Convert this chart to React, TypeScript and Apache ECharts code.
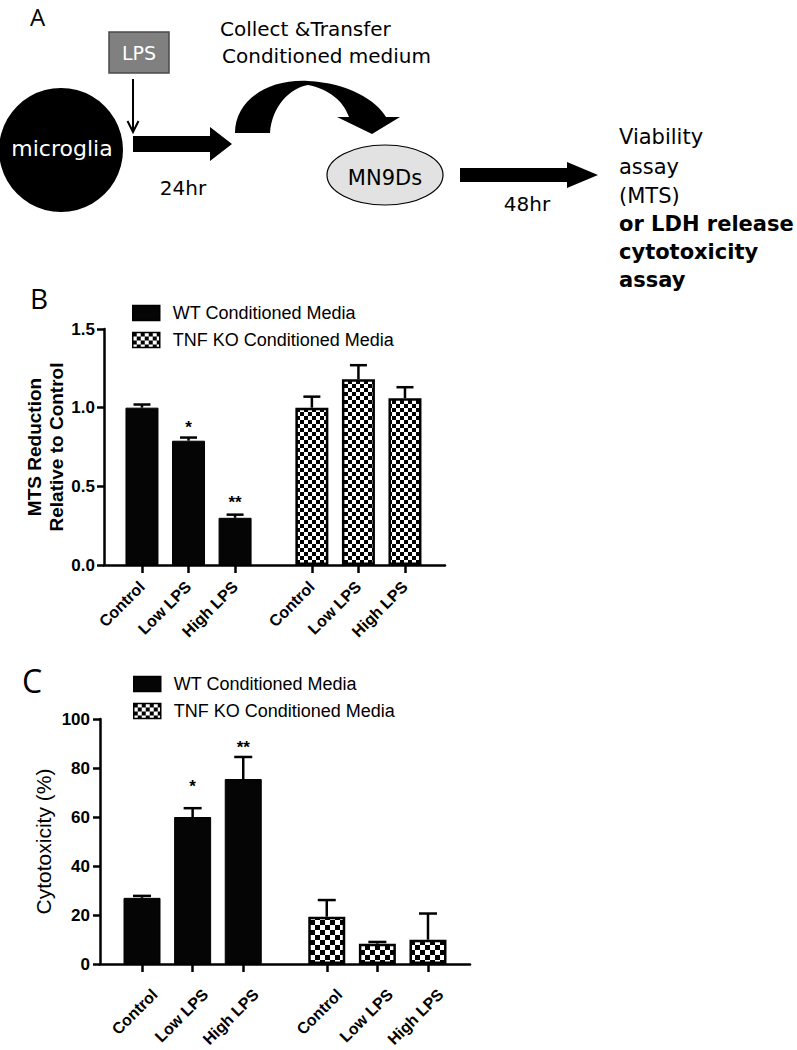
import React, { useEffect, useRef } from "react";
import * as echarts from "echarts";

// ---------- data ----------
const groupNames = ["Control", "Low LPS", "High LPS"];
const seriesNames = ["WT Conditioned Media", "TNF KO Conditioned Media"];
const groupOffset = 3.65; // KO group starts this many slots after the WT group

// Panel B: MTS reduction relative to control
const mtsTicks = [0, 0.5, 1.0, 1.5];
const mtsWT = [1.0, 0.79, 0.3];
const mtsWTErr = [0.02, 0.02, 0.02];
const mtsKO = [1.0, 1.18, 1.06];
const mtsKOErr = [0.07, 0.09, 0.07];
const mtsStars = ["", "*", "**"];
const mtsStarLevel = [0, 0.9, 0.42];

// Panel C: cytotoxicity (%)
const cytoTicks = [0, 20, 40, 60, 80, 100];
const cytoWT = [27, 60, 75.5];
const cytoWTErr = [0.8, 3.6, 9];
const cytoKO = [19.3, 8.3, 9.9];
const cytoKOErr = [6.8, 0.7, 10.7];
const cytoStars = ["", "*", "**"];
const cytoStarLevel = [0, 74, 90];

// ---------- helpers ----------
const wtPos = groupNames.map((_, i) => i + 1);
const koPos = groupNames.map((_, i) => i + 1 + groupOffset);
const allPos = [...wtPos, ...koPos];
const allNames = [...groupNames, ...groupNames];

const curveD =
  "M235 133 C235 100 268 79 308 81 C348 83 376 100 386 117 L400 117 L372 134 L337 117 L349 117 C343 100 328 89 308 85 C290 88 272 106 270 133 Z";
echarts.graphic.registerShape("curveArrow", echarts.graphic.extendPath(curveD, {}));

function makeChecker(cell: number) {
  const c = document.createElement("canvas");
  c.width = cell * 2;
  c.height = cell * 2;
  const ctx = c.getContext("2d")!;
  ctx.fillStyle = "#fff";
  ctx.fillRect(0, 0, cell * 2, cell * 2);
  ctx.fillStyle = "#000";
  ctx.fillRect(0, 0, cell, cell);
  ctx.fillRect(cell, cell, cell, cell);
  return c;
}

const AX = "Liberation Sans";
const DIAG = "DejaVu Sans";

function xAxisFor(gridIndex: number, min: number, max: number, label: any) {
  return {
    type: "value",
    gridIndex,
    min,
    max,
    splitLine: { show: false },
    axisLine: { show: true, onZero: false, lineStyle: { color: "#000", width: 2.5 } },
    axisTick: { show: true, customValues: allPos, length: 8, lineStyle: { color: "#000", width: 2.5 } },
    axisLabel: {
      show: true,
      customValues: allPos,
      rotate: 45,
      formatter: (v: number) => {
        const idx = allPos.findIndex((p) => Math.abs(p - v) < 1e-6);
        return idx >= 0 ? allNames[idx] : "";
      },
      fontFamily: AX,
      fontWeight: "bold",
      fontSize: 16,
      color: "#000",
      ...label,
    },
  };
}

function yAxisFor(gridIndex: number, ticks: number[], fmt: (v: number) => string, name: string, nameGap: number, nameStyle: any, margin: number) {
  return {
    type: "value",
    gridIndex,
    min: ticks[0],
    max: ticks[ticks.length - 1],
    interval: ticks[1] - ticks[0],
    splitLine: { show: false },
    axisLine: { show: true, lineStyle: { color: "#000", width: 2.5 } },
    axisTick: { show: true, length: 7, lineStyle: { color: "#000", width: 2.5 } },
    axisLabel: { formatter: fmt, fontFamily: AX, fontWeight: "bold", fontSize: 17, color: "#000", margin },
    name,
    nameLocation: "middle",
    nameGap,
    nameTextStyle: { color: "#000", fontFamily: AX, ...nameStyle },
  };
}

function panelSeries(idx: number, wt: number[], wtErr: number[], ko: number[], koErr: number[], stars: string[], starLevel: number[], barWidth: number, capW: number, pattern: any) {
  const errData = [
    ...wt.map((v, i) => [wtPos[i], v, wtErr[i]]),
    ...ko.map((v, i) => [koPos[i], v, koErr[i]]),
  ];
  const starData = stars
    .map((s, i) => [wtPos[i], starLevel[i], i])
    .filter((d) => stars[d[2] as number] !== "");
  return [
    {
      type: "bar",
      name: seriesNames[0],
      xAxisIndex: idx,
      yAxisIndex: idx,
      barWidth,
      barGap: "-100%",
      data: wt.map((v, i) => [wtPos[i], v]),
      itemStyle: { color: "#050505", borderColor: "#000", borderWidth: 1 },
    },
    {
      type: "bar",
      name: seriesNames[1],
      xAxisIndex: idx,
      yAxisIndex: idx,
      barWidth,
      barGap: "-100%",
      data: ko.map((v, i) => [koPos[i], v]),
      itemStyle: { color: pattern, borderColor: "#000", borderWidth: 2.5 },
    },
    {
      type: "custom",
      xAxisIndex: idx,
      yAxisIndex: idx,
      clip: false,
      z: 5,
      data: errData,
      renderItem: (_p: any, api: any) => {
        const x = api.value(0);
        const v = api.value(1);
        const e = api.value(2);
        const a = api.coord([x, v]);
        const b = api.coord([x, v + e]);
        const hw = capW / 2;
        return {
          type: "group",
          children: [
            { type: "line", shape: { x1: a[0], y1: a[1], x2: b[0], y2: b[1] }, style: { stroke: "#000", lineWidth: 2.5 } },
            { type: "line", shape: { x1: b[0] - hw, y1: b[1], x2: b[0] + hw, y2: b[1] }, style: { stroke: "#000", lineWidth: 2.5 } },
          ],
        };
      },
    },
    {
      type: "custom",
      xAxisIndex: idx,
      yAxisIndex: idx,
      clip: false,
      z: 6,
      data: starData,
      renderItem: (_p: any, api: any) => {
        const pt = api.coord([api.value(0), api.value(1)]);
        return {
          type: "text",
          x: pt[0],
          y: pt[1] + 4,
          style: {
            text: stars[api.value(2)],
            fill: "#000",
            font: `bold 17px "${AX}"`,
            align: "center",
            verticalAlign: "middle",
            textAlign: "center",
            textVerticalAlign: "middle",
          },
        };
      },
    },
  ];
}

function txt(text: string, x: number, y: number, size: number, opts: any = {}) {
  const align = opts.align || "left";
  return {
    type: "text",
    x,
    y,
    silent: true,
    style: {
      text,
      fill: opts.fill || "#000",
      font: `${opts.bold ? "bold " : ""}${size}px "${opts.family || DIAG}"`,
      align,
      textAlign: align,
      verticalAlign: "middle",
      textVerticalAlign: "middle",
    },
  };
}

function buildOption() {
  const pattern = { image: makeChecker(4), repeat: "repeat" };
  const patternC = { image: makeChecker(5), repeat: "repeat" };
  const legendBase = {
    orient: "vertical",
    itemWidth: 27,
    itemHeight: 15,
    itemGap: 9,
    icon: "rect",
    selectedMode: false,
    data: seriesNames,
    textStyle: { fontFamily: AX, fontSize: 18, color: "#000", lineHeight: 18, padding: [0, 0, 0, 8] },
    itemStyle: { borderColor: "#000", borderWidth: 1.5 },
  };

  return {
    animation: false,
    backgroundColor: "#fff",
    textStyle: { fontFamily: AX },
    grid: [
      { left: 104, top: 329, width: 341, height: 236 },
      { left: 100, top: 719, width: 370, height: 245 },
    ],
    xAxis: [
      xAxisFor(0, 0.184, 7.51, { margin: 19 }),
      xAxisFor(1, 0.17, 7.48, { margin: 15, verticalAlign: "top", padding: [10, 0, 0, 0] }),
    ],
    yAxis: [
      yAxisFor(0, mtsTicks, (v: number) => v.toFixed(1), "MTS Reduction\nRelative to Control", 36, { fontWeight: "bold", fontSize: 19, lineHeight: 22 }, 9),
      yAxisFor(1, cytoTicks, (v: number) => String(v), "Cytotoxicity (%)", 46, { fontWeight: "normal", fontSize: 21, lineHeight: 22 }, 10),
    ],
    legend: [
      { ...legendBase, left: 127, top: 299 },
      { ...legendBase, left: 128, top: 670 },
    ],
    series: [
      ...panelSeries(0, mtsWT, mtsWTErr, mtsKO, mtsKOErr, mtsStars, mtsStarLevel, 33, 17, pattern),
      ...panelSeries(1, cytoWT, cytoWTErr, cytoKO, cytoKOErr, cytoStars, cytoStarLevel, 37, 18, patternC),
    ],
    graphic: [
      // panel letters
      txt("A", 30, 16, 24, { family: "Open Sans" }),
      txt("B", 30, 298, 28, { family: "Open Sans" }),
      txt("C", 22, 680, 32, { family: "Open Sans" }),
      // LPS box and arrow
      { type: "rect", shape: { x: 109, y: 32, width: 60, height: 41 }, style: { fill: "#808080", stroke: "#4a4a4a", lineWidth: 1.5 } },
      txt("LPS", 139, 53, 19, { fill: "#fff", align: "center" }),
      { type: "line", shape: { x1: 133, y1: 79, x2: 133, y2: 132 }, style: { stroke: "#000", lineWidth: 2 } },
      { type: "polyline", shape: { points: [[127.5, 121], [133, 132], [138.5, 121]] }, style: { stroke: "#000", lineWidth: 2, fill: null } },
      // microglia
      { type: "circle", shape: { cx: 61, cy: 150, r: 62 }, style: { fill: "#000" } },
      txt("microglia", 62, 148, 22, { fill: "#fff", align: "center" }),
      // arrow 1
      { type: "polygon", shape: { points: [[133, 136], [210, 136], [210, 127], [232, 144], [210, 161], [210, 152], [133, 152]] }, style: { fill: "#000" } },
      txt("24hr", 183, 188, 20, { align: "center" }),
      // collect & transfer
      txt("Collect &Transfer", 220, 29, 20),
      txt("Conditioned medium", 222, 56, 20),
      { type: "curveArrow", x: 0, y: 0, style: { fill: "#000" } },
      // MN9Ds
      { type: "ellipse", shape: { cx: 385, cy: 175, rx: 58, ry: 30 }, style: { fill: "#e2e2e2", stroke: "#000", lineWidth: 1.2 } },
      txt("MN9Ds", 385, 178, 21, { align: "center" }),
      // arrow 2
      { type: "polygon", shape: { points: [[460, 168], [567, 168], [567, 162], [598, 175], [567, 188], [567, 182], [460, 182]] }, style: { fill: "#000" } },
      txt("48hr", 527, 204, 20, { align: "center" }),
      // assay text
      txt("Viability", 619, 137, 21),
      txt("assay", 619, 167, 21),
      txt("(MTS)", 619, 196, 21),
      txt("or LDH release", 619, 224, 21, { bold: true }),
      txt("cytotoxicity", 619, 252, 21, { bold: true }),
      txt("assay", 619, 280, 21, { bold: true }),
    ],
  };
}

export default function App() {
  const ref = useRef<HTMLDivElement>(null);
  useEffect(() => {
    const chart = echarts.init(ref.current!, null, { renderer: "svg" });
    chart.setOption(buildOption() as any);
    return () => chart.dispose();
  }, []);
  return (
    <div
      ref={ref}
      style={{ position: "fixed", left: 0, top: 0, width: 797, height: 1050, background: "#fff" }}
    />
  );
}
